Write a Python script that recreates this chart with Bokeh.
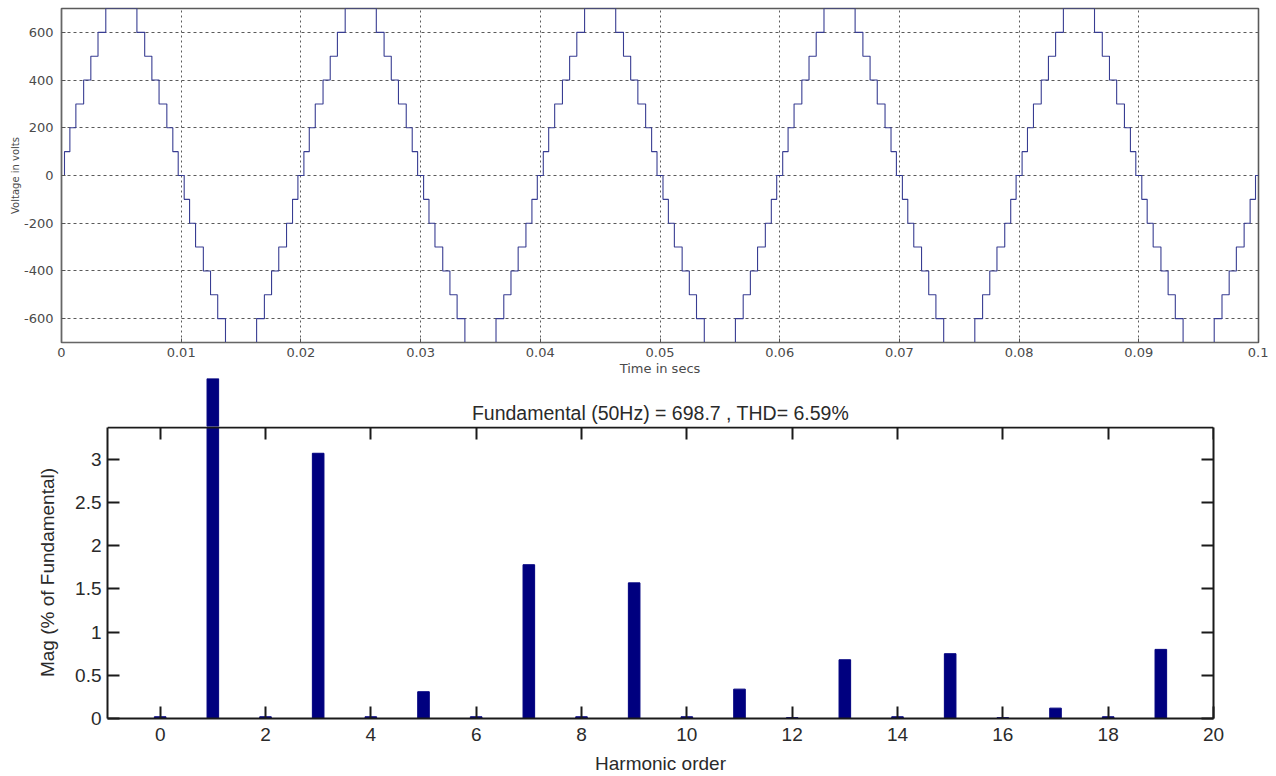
import numpy as np
from bokeh.plotting import figure
from bokeh.models import (Range1d, FixedTicker, CustomJSTickFormatter, LinearAxis, Label)
from bokeh.embed import file_html
from bokeh.resources import INLINE

# ---------------- data ----------------
# one period (50 Hz) of the 15-level staircase: switching instants (ms) and level after each switch
cycle_step_times_ms = [0.25, 0.70, 1.20, 1.85, 2.45, 3.05, 3.70,
                       6.30, 6.95, 7.55, 8.15, 8.80, 9.30, 9.75,
                       10.25, 10.70, 11.20, 11.85, 12.45, 13.05, 13.70,
                       16.30, 16.95, 17.55, 18.15, 18.80, 19.30, 19.75]
cycle_step_levels = [100, 200, 300, 400, 500, 600, 700,
                     600, 500, 400, 300, 200, 100, 0,
                     -100, -200, -300, -400, -500, -600, -700,
                     -600, -500, -400, -300, -200, -100, 0]
period_s = 0.02
n_cycles = 5
time_ticks = [0, 0.01, 0.02, 0.03, 0.04, 0.05, 0.06, 0.07, 0.08, 0.09, 0.1]
voltage_ticks = [-600, -400, -200, 0, 200, 400, 600]

harmonic_order = list(range(20))
harmonic_mag = [0.02, 100.0, 0.02, 3.07, 0.02, 0.31, 0.02, 1.78, 0.02, 1.57,
                0.02, 0.34, 0.01, 0.68, 0.02, 0.75, 0.01, 0.12, 0.02, 0.80]
harm_x_ticks = [0, 2, 4, 6, 8, 10, 12, 14, 16, 18, 20]
harm_y_ticks = [0, 0.5, 1, 1.5, 2, 2.5, 3]
title_text = "Fundamental (50Hz) = 698.7 , THD= 6.59%"

# ---------------- waveform ----------------
t = [0.0]
v = [0]
for k in range(n_cycles):
    for ms, lv in zip(cycle_step_times_ms, cycle_step_levels):
        t.append(k * period_s + ms / 1000.0)
        v.append(lv)
t.append(time_ticks[-1])
v.append(0)

fmt_code = "return String(Math.round(tick*1000)/1000)"

TOP_FONT = "DejaVu Sans"
p1 = figure(width=1268, height=378, x_range=Range1d(0, 0.1), y_range=Range1d(-700, 700),
            output_backend="svg", toolbar_location=None,
            min_border_left=61, min_border_right=10, min_border_top=8, min_border_bottom=35)
p1.step(t, v, mode="after", line_color="#383d92", line_width=1.1)

p1.xaxis.ticker = FixedTicker(ticks=time_ticks)
p1.yaxis.ticker = FixedTicker(ticks=voltage_ticks)
p1.xaxis.formatter = CustomJSTickFormatter(code=fmt_code)
p1.yaxis.formatter = CustomJSTickFormatter(code=fmt_code)
p1.xaxis.axis_label = "Time in secs"
p1.yaxis.axis_label = "Voltage in volts"
for ax in (p1.xaxis[0], p1.yaxis[0]):
    ax.major_label_text_font = TOP_FONT
    ax.major_label_text_font_size = "13px"
    ax.major_label_text_color = "#4a4a4a"
    ax.axis_label_text_font = TOP_FONT
    ax.axis_label_text_font_style = "normal"
    ax.axis_label_text_color = "#4a4a4a"
    ax.axis_line_color = "#666666"
    ax.axis_line_width = 1.2
    ax.major_tick_in = 4
    ax.major_tick_out = 0
    ax.major_tick_line_color = "#555555"
    ax.minor_tick_line_color = None
p1.xaxis.major_label_standoff = 5
p1.xaxis.axis_label_standoff = 1
p1.xaxis.axis_label_text_font_size = "13px"
p1.yaxis.major_label_standoff = 8
p1.yaxis.axis_label_standoff = 0
p1.yaxis.axis_label_text_font_size = "10px"
p1.xgrid.grid_line_color = "#5a5a5a"
p1.xgrid.grid_line_dash = "2 3"
p1.ygrid.grid_line_color = "#5a5a5a"
p1.ygrid.grid_line_dash = "3 3"
p1.outline_line_color = "#5a5a5a"
p1.outline_line_width = 1.6

# ---------------- harmonic spectrum ----------------
BOT_FONT = "Liberation Sans"
spine_top = 3.37
harm_x_range = Range1d(-1, 20)

# strip above the axes box: title and the part of the fundamental bar that rises past the box
pm = figure(width=1248, height=48, x_range=harm_x_range, y_range=Range1d(3.38, 3.936),
            output_backend="svg", toolbar_location=None,
            x_axis_location=None, y_axis_location=None,
            min_border_left=107, min_border_right=35, min_border_top=0, min_border_bottom=0)
pm.vbar(x=harmonic_order, top=harmonic_mag, width=0.22, fill_color="#00007f", line_color="#00007f")
pm.grid.visible = False
pm.outline_line_color = None
pm.add_layout(Label(x=9.5, y=3.54, text=title_text, text_font=BOT_FONT, text_font_size="19.5px",
                    text_color="#2a2a2a", text_align="center", text_baseline="middle"))

p2 = figure(width=1248, height=350, x_range=harm_x_range, y_range=Range1d(0, 3.38),
            output_backend="svg", toolbar_location=None,
            min_border_left=107, min_border_right=35, min_border_top=0, min_border_bottom=58)
p2.vbar(x=harmonic_order, top=harmonic_mag, width=0.22, fill_color="#00007f", line_color="#00007f")
p2.grid.grid_line_color = None
p2.outline_line_color = None

xa = p2.xaxis[0]
ya = p2.yaxis[0]
xa.ticker = FixedTicker(ticks=harm_x_ticks)
ya.ticker = FixedTicker(ticks=harm_y_ticks)
ya.formatter = CustomJSTickFormatter(code=fmt_code)
ya.bounds = (0, spine_top)
xa.axis_label = "Harmonic order"
ya.axis_label = "Mag (% of Fundamental)"

ra = LinearAxis(ticker=FixedTicker(ticks=harm_y_ticks), bounds=(0, spine_top))
ta = LinearAxis(ticker=FixedTicker(ticks=harm_x_ticks), fixed_location=spine_top)
p2.add_layout(ra, "right")
p2.add_layout(ta, "above")

for ax in (xa, ya, ra, ta):
    ax.axis_line_color = "#1a1a1a"
    ax.axis_line_width = 2
    ax.major_tick_in = 12
    ax.major_tick_out = 0
    ax.major_tick_line_color = "#1a1a1a"
    ax.major_tick_line_width = 2
    ax.minor_tick_line_color = None
    ax.major_label_text_font = BOT_FONT
    ax.major_label_text_font_size = "19px"
    ax.major_label_text_color = "#2a2a2a"
    ax.axis_label_text_font = BOT_FONT
    ax.axis_label_text_font_size = "19px"
    ax.axis_label_text_font_style = "normal"
    ax.axis_label_text_color = "#2a2a2a"
for ax in (ra, ta):
    ax.major_label_text_color = None
    ax.major_label_standoff = 0
xa.major_label_standoff = 9
xa.axis_label_standoff = 9
ya.major_label_standoff = 6
ya.axis_label_standoff = 14

open("out.html", "w").write(file_html([p1, pm, p2], INLINE))
